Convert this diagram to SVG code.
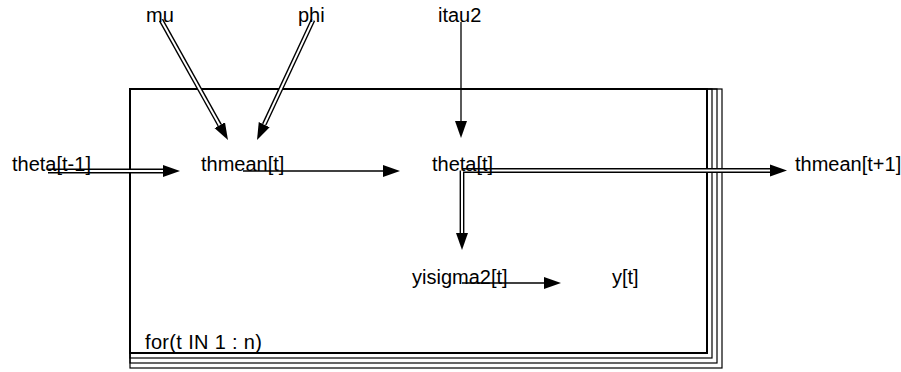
<svg xmlns="http://www.w3.org/2000/svg" width="901" height="372" viewBox="0 0 901 372">
  <style>
    text { font-family: "Liberation Sans", Arial, sans-serif; font-size: 20px; fill: #000; }
    .plate { fill: none; stroke: #000; stroke-width: 1.2; }
    .plate-main { fill: none; stroke: #000; stroke-width: 2; }
    .single { fill: none; stroke: #000; stroke-width: 1.3; }
    .dbl-outer { fill: none; stroke: #000; stroke-width: 4.8; stroke-linejoin: miter; }
    .dbl-inner { fill: none; stroke: #fff; stroke-width: 2; stroke-linejoin: miter; }
  </style>
  <defs>
    <marker id="head" markerUnits="userSpaceOnUse" markerWidth="18" markerHeight="14" refX="0" refY="6" orient="auto" viewBox="0 0 18 12">
      <path d="M0,0 L17,6 L0,12 z" fill="#000"/>
    </marker>
  </defs>
  <rect width="901" height="372" fill="#fff"/>

  <!-- plate for(t IN 1 : n), drawn as stacked frames -->
  <g id="plate">
    <rect class="plate" x="130" y="89" width="592" height="279"/>
    <rect class="plate" x="130" y="89" width="587" height="274"/>
    <rect class="plate" x="130" y="89" width="582" height="269"/>
    <rect class="plate-main" x="130" y="89" width="577" height="264"/>
    <text x="145" y="349" textLength="117" lengthAdjust="spacing">for(t IN 1 : n)</text>
  </g>

  <!-- connectors -->
  <g id="connectors">
    <!-- double (logical/deterministic) links: black outline -->
    <path class="dbl-outer" d="M161,20 L219.7,125.2" marker-end="url(#head)"/>
    <path class="dbl-outer" d="M313,20 L264.2,124.6" marker-end="url(#head)"/>
    <path class="dbl-outer" d="M48,171 L163,171" marker-end="url(#head)"/>
    <path class="dbl-outer" d="M462,170.5 L770,170.5" marker-end="url(#head)"/>
    <path class="dbl-outer" d="M462,170.5 L462,233" marker-end="url(#head)"/>
    <!-- double links: white core -->
    <path class="dbl-inner" d="M161,20 L219.7,125.2"/>
    <path class="dbl-inner" d="M313,20 L264.2,124.6"/>
    <path class="dbl-inner" d="M48,171 L163,171"/>
    <path class="dbl-inner" d="M462,170.5 L770,170.5"/>
    <path class="dbl-inner" d="M462,170.5 L462,233"/>
    <!-- single (stochastic) links -->
    <path class="single" d="M461,22 L461,121" marker-end="url(#head)"/>
    <path class="single" d="M243,171 L383,171" marker-end="url(#head)"/>
    <path class="single" d="M462,283 L544,283" marker-end="url(#head)"/>
  </g>

  <!-- nodes -->
  <g id="mu"><text x="146" y="22">mu</text></g>
  <g id="phi"><text x="298" y="22">phi</text></g>
  <g id="itau2"><text x="438" y="22">itau2</text></g>
  <g id="theta_prev"><text x="12" y="171">theta[t-1]</text></g>
  <g id="thmean_t"><text x="201" y="171">thmean[t]</text></g>
  <g id="theta_t"><text x="432" y="171">theta[t]</text></g>
  <g id="thmean_next"><text x="795" y="171">thmean[t+1]</text></g>
  <g id="yisigma2_t"><text x="412" y="284">yisigma2[t]</text></g>
  <g id="y_t"><text x="612" y="284">y[t]</text></g>
</svg>
